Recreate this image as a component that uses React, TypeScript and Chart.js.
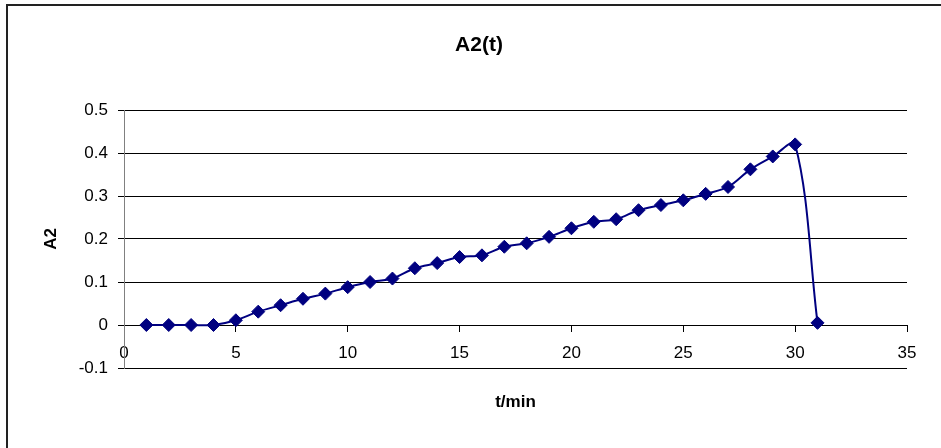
import React, { useEffect, useRef } from 'react';
import { Chart, registerables } from 'chart.js';

Chart.register(...registerables);

const times = [1, 2, 3, 4, 5, 6, 7, 8, 9, 10, 11, 12, 13, 14, 15, 16, 17, 18, 19, 20, 21, 22, 23, 24, 25, 26, 27, 28, 29, 30, 31];
const a2Values = [0, 0, 0, 0, 0.011, 0.031, 0.046, 0.061, 0.073, 0.088, 0.1, 0.108, 0.132, 0.144, 0.158, 0.162, 0.182, 0.19, 0.205, 0.225, 0.24, 0.246, 0.267, 0.279, 0.29, 0.305, 0.321, 0.362, 0.392, 0.42, 0.005];
const xTicks = [0, 5, 10, 15, 20, 25, 30, 35];
const yTicks = [-0.1, 0, 0.1, 0.2, 0.3, 0.4, 0.5];
const chartTitle = 'A2(t)';
const xTitle = 't/min';
const yTitle = 'A2';

const FAMILY = '"Liberation Sans", Arial, Helvetica, sans-serif';

export default function App() {
  const ref = useRef<HTMLCanvasElement>(null);

  useEffect(() => {
    const titlePlugin = {
      id: 'frameTitle',
      afterDraw(chart: any) {
        const ctx = chart.ctx;
        ctx.save();
        ctx.font = `bold 21px ${FAMILY}`;
        ctx.fillStyle = '#000';
        ctx.textAlign = 'center';
        ctx.textBaseline = 'middle';
        ctx.fillText(chartTitle, 479, 45);
        ctx.restore();
      },
    };

    const chart = new Chart(ref.current as HTMLCanvasElement, {
      type: 'scatter',
      data: {
        datasets: [
          {
            data: times.map((t, i) => ({ x: t, y: a2Values[i] })),
            xAxisID: 'x',
            yAxisID: 'y',
            showLine: true,
            borderColor: '#000080',
            backgroundColor: '#000080',
            borderWidth: 2,
            tension: 0.35,
            pointStyle: 'rectRot',
            pointRadius: 6.5,
            pointBorderWidth: 1,
            pointBorderColor: '#000080',
            pointBackgroundColor: '#000080',
          } as any,
        ],
      },
      options: {
        responsive: false,
        animation: false,
        devicePixelRatio: 1,
        layout: { padding: { top: 110, right: 34, left: 0, bottom: 0 } },
        plugins: {
          legend: { display: false },
          tooltip: { enabled: false },
          title: { display: false },
        },
        scales: {
          x: {
            type: 'linear',
            position: { y: 0 } as any,
            min: 0,
            max: 35,
            afterBuildTicks: (s: any) => {
              s.ticks = xTicks.map((v) => ({ value: v }));
            },
            ticks: {
              font: { family: FAMILY, size: 17 },
              color: '#000',
              padding: 12,
              maxRotation: 0,
              autoSkip: false,
            },
            grid: { drawOnChartArea: false, drawTicks: true, tickLength: 6, tickColor: '#000' },
            border: { color: '#000', width: 1 },
          },
          x2: {
            type: 'linear',
            axis: 'x',
            position: 'bottom',
            ticks: { display: false },
            grid: { display: false },
            border: { display: false },
            title: {
              display: true,
              text: xTitle,
              color: '#000',
              font: { family: FAMILY, size: 17, weight: 'bold' },
              padding: { top: 0, bottom: 35 },
            },
            afterFit: (s: any) => {
              s.height = 80;
            },
          } as any,
          y: {
            type: 'linear',
            position: 'left',
            min: -0.1,
            max: 0.5,
            afterBuildTicks: (s: any) => {
              s.ticks = yTicks.map((v) => ({ value: v }));
            },
            ticks: {
              font: { family: FAMILY, size: 17 },
              color: '#000',
              padding: 10,
              callback: (v: any) => String(Number(Number(v).toFixed(1))),
            },
            grid: { color: '#000', lineWidth: 1, drawTicks: true, tickLength: 6, tickColor: '#000' },
            border: { color: '#808080', width: 1 },
            title: {
              display: true,
              text: yTitle,
              color: '#000',
              font: { family: FAMILY, size: 17, weight: 'bold' },
              padding: { top: 41, bottom: 0 },
            },
            afterFit: (s: any) => {
              s.width = 124;
            },
          },
        },
      },
      plugins: [titlePlugin],
    });

    return () => chart.destroy();
  }, []);

  return (
    <div
      style={{
        position: 'fixed',
        left: 0,
        top: 0,
        width: 941,
        height: 448,
        overflow: 'hidden',
        background: '#fff',
      }}
    >
      <div
        style={{
          position: 'absolute',
          left: 6,
          top: 4,
          width: 980,
          height: 480,
          border: '2px solid #222',
          boxSizing: 'border-box',
        }}
      />
      <canvas
        ref={ref}
        width={941}
        height={448}
        style={{ position: 'absolute', left: 0, top: 0, width: 941, height: 448 }}
      />
    </div>
  );
}
